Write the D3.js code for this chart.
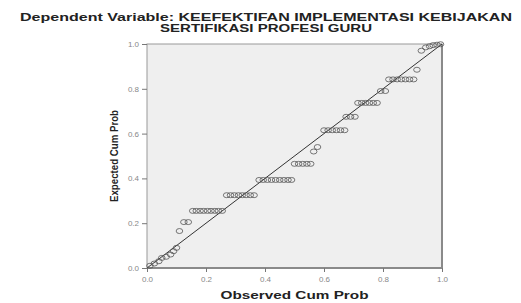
<!DOCTYPE html>
<html>
<head>
<meta charset="utf-8">
<script src="https://cdn.jsdelivr.net/npm/d3@7"></script>
<style>
  body { margin: 0; background: #fff; }
  text { font-family: "Liberation Sans", Arial, sans-serif; }
</style>
</head>
<body>
<div id="chart"></div>
<script>
let width = 521, height = 303;
let margin = ({top: 44, right: 79, bottom: 35, left: 147});

// P-P plot data (observed cum prob, expected cum prob)
let observed = [0.01, 0.025, 0.04, 0.05, 0.065, 0.08, 0.09, 0.1,
  0.11, 0.125, 0.14,
  0.155, 0.167, 0.18, 0.192, 0.205, 0.217, 0.23, 0.242, 0.255,
  0.27, 0.283, 0.296, 0.31, 0.323, 0.336, 0.35, 0.363,
  0.38, 0.394, 0.408, 0.422, 0.436, 0.45, 0.464, 0.478, 0.49,
  0.5, 0.514, 0.528, 0.542, 0.555,
  0.565, 0.578,
  0.6, 0.614, 0.628, 0.642, 0.656, 0.67,
  0.675, 0.69, 0.705,
  0.715, 0.728, 0.741, 0.754, 0.767, 0.78,
  0.792, 0.808,
  0.82, 0.834, 0.848, 0.862, 0.876, 0.89, 0.904,
  0.915,
  0.93, 0.945, 0.958, 0.97, 0.983, 0.995];
let expected = [0.01, 0.02, 0.03, 0.045, 0.05, 0.06, 0.075, 0.09,
  0.165, 0.205, 0.205,
  0.255, 0.255, 0.255, 0.255, 0.255, 0.255, 0.255, 0.255, 0.255,
  0.325, 0.325, 0.325, 0.325, 0.325, 0.325, 0.325, 0.325,
  0.393, 0.393, 0.393, 0.393, 0.393, 0.393, 0.393, 0.393, 0.393,
  0.465, 0.465, 0.465, 0.465, 0.465,
  0.52, 0.54,
  0.615, 0.615, 0.615, 0.615, 0.615, 0.615,
  0.675, 0.675, 0.675,
  0.737, 0.737, 0.737, 0.737, 0.737, 0.737,
  0.79, 0.79,
  0.842, 0.842, 0.842, 0.842, 0.842, 0.842, 0.842,
  0.885,
  0.97, 0.985, 0.99, 0.995, 0.997, 0.999];
let ticks = [0.0, 0.2, 0.4, 0.6, 0.8, 1.0];
let titleLines = ["Dependent Variable: KEEFEKTIFAN IMPLEMENTASI KEBIJAKAN", "SERTIFIKASI PROFESI GURU"];

let data = observed.map((o, i) => ({o, e: expected[i]}));

let x = d3.scaleLinear().domain([0, 1]).range([margin.left, width - margin.right]);
let y = d3.scaleLinear().domain([0, 1]).range([height - margin.bottom, margin.top]);

let svg = d3.select("#chart").append("svg")
    .attr("width", width).attr("height", height);

// plot background
svg.append("rect")
    .attr("x", x(0)).attr("y", y(1))
    .attr("width", x(1) - x(0)).attr("height", y(0) - y(1))
    .attr("fill", "#efefef")
    .attr("stroke", "#9a9a9a").attr("stroke-width", 1);
// darker right/bottom edge
svg.append("path")
    .attr("d", `M${x(1)},${y(1)}V${y(0)}H${x(0)}`)
    .attr("fill", "none").attr("stroke", "#8a8a8a").attr("stroke-width", 2);

let xAxis = g => g
    .attr("transform", `translate(0,${y(0)})`)
    .call(d3.axisBottom(x).tickValues(ticks).tickFormat(d3.format(".1f")).tickSize(4).tickPadding(4))
    .call(g => g.select(".domain").remove());
let yAxis = g => g
    .attr("transform", `translate(${x(0)},0)`)
    .call(d3.axisLeft(y).tickValues(ticks).tickFormat(d3.format(".1f")).tickSize(5).tickPadding(3))
    .call(g => g.select(".domain").remove());

svg.append("g").call(xAxis);
svg.append("g").call(yAxis);
svg.selectAll(".tick line").attr("stroke", "#777");
svg.selectAll(".tick text").attr("fill", "#888").attr("font-size", 8)
    .attr("font-family", "Liberation Sans, Arial, sans-serif");

// reference line
svg.append("line")
    .attr("x1", x(0)).attr("y1", y(0))
    .attr("x2", x(1)).attr("y2", y(1))
    .attr("stroke", "#333").attr("stroke-width", 1);

// points
svg.append("g")
    .selectAll("ellipse")
    .data(data)
    .join("ellipse")
    .attr("cx", d => x(d.o))
    .attr("cy", d => y(d.e))
    .attr("rx", 3.3).attr("ry", 2.5)
    .attr("fill", "none")
    .attr("stroke", "#555").attr("stroke-width", 0.8);

// title
svg.append("g")
    .attr("font-weight", "bold").attr("font-size", 11).attr("fill", "#222")
    .attr("text-anchor", "middle")
    .selectAll("text")
    .data(titleLines)
    .join("text")
    .attr("x", 266)
    .attr("y", (d, i) => 21 + i * 11)
    .attr("textLength", (d, i) => i === 0 ? 492 : 212)
    .attr("lengthAdjust", "spacingAndGlyphs")
    .text(d => d);

// axis labels
svg.append("text")
    .attr("x", (x(0) + x(1)) / 2).attr("y", 299)
    .attr("text-anchor", "middle")
    .attr("font-weight", "bold").attr("font-size", 11).attr("fill", "#222")
    .attr("textLength", 148).attr("lengthAdjust", "spacingAndGlyphs")
    .text("Observed Cum Prob");

svg.append("text")
    .attr("transform", `translate(118,${(y(0) + y(1)) / 2}) rotate(-90)`)
    .attr("text-anchor", "middle")
    .attr("font-weight", "bold").attr("font-size", 10).attr("fill", "#222")
    .attr("textLength", 92).attr("lengthAdjust", "spacingAndGlyphs")
    .text("Expected Cum Prob");
</script>
</body>
</html>
